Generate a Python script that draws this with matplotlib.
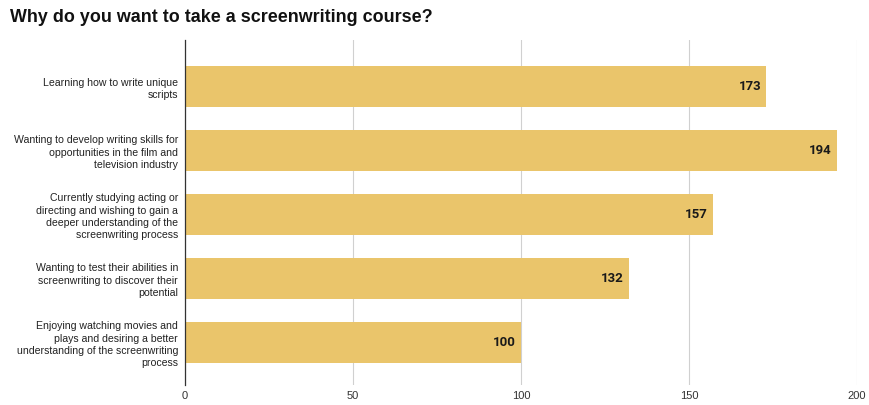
import matplotlib
matplotlib.use("Agg")
import matplotlib.pyplot as plt

categories = [
    "Learning how to write unique\nscripts",
    "Wanting to develop writing skills for\nopportunities in the film and\ntelevision industry",
    "Currently studying acting or\ndirecting and wishing to gain a\ndeeper understanding of the\nscreenwriting process",
    "Wanting to test their abilities in\nscreenwriting to discover their\npotential",
    "Enjoying watching movies and\nplays and desiring a better\nunderstanding of the screenwriting\nprocess",
]
values = [173, 194, 157, 132, 100]
xticks = [0, 50, 100, 150, 200]
title = "Why do you want to take a screenwriting course?"

fig = plt.figure(figsize=(8.69, 4.05), dpi=100)
ax = fig.add_axes([185/869, 1-385/405, (857-185)/869, (385-40)/405])

ypos = list(range(len(categories)))
ax.barh(ypos, values, height=0.645, color="#EAC56B", zorder=3)
for y, v in zip(ypos, values):
    ax.text(v - 1.5, y, str(v), ha="right", va="center", fontsize=9.5,
            fontweight="bold", family="Roboto", color="#1a1a1a", zorder=4)

ax.set_xlim(0, 200)
ax.set_ylim(4.664, -0.727)
ax.set_xticks(xticks)
ax.set_xticklabels([str(t) for t in xticks], family="Liberation Sans", fontsize=8, color="#333333")
ax.set_yticks(ypos)
ax.set_yticklabels(categories, family="Liberation Sans", fontsize=7.6, color="#222222",
                   linespacing=1.3)
ax.tick_params(axis="both", length=0)
ax.tick_params(axis="x", pad=4)
ax.tick_params(axis="y", pad=5)
ax.grid(axis="x", color="#d0d0d0", linewidth=0.8, zorder=0)
for s in ["top", "right", "bottom"]:
    ax.spines[s].set_visible(False)
ax.spines["left"].set_color("#333333")
ax.spines["left"].set_linewidth(0.9)
ax.spines["left"].set_zorder(5)

fig.text(10/869, 1-18/405, title, ha="left", va="center", fontsize=12.9,
         fontweight="bold", family="Liberation Sans", color="#111111")

fig.savefig("out.png", dpi=100)
